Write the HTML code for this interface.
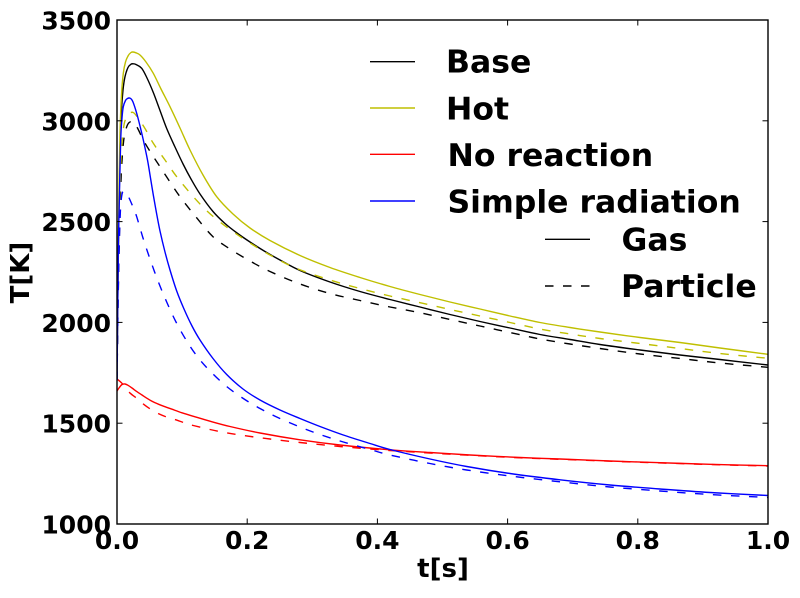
<!DOCTYPE html>
<html>
<head>
<meta charset="utf-8">
<style>
  html, body { margin: 0; padding: 0; background: #ffffff; }
  svg { display: block; }
  text { font-family: "DejaVu Sans", "Liberation Sans", sans-serif; font-weight: bold; fill: #000; }
</style>
</head>
<body>
<svg id="chart" width="800" height="598" viewBox="0 0 800 598" xmlns="http://www.w3.org/2000/svg">
  <rect x="0" y="0" width="800" height="598" fill="#ffffff"/>
  <defs>
    <clipPath id="plot">
      <rect x="117" y="20" width="651" height="504"/>
    </clipPath>
  </defs>

  <g clip-path="url(#plot)" fill="none" stroke-width="1.4" stroke-linejoin="round" stroke-linecap="butt">
    <!-- Base gas (black solid) -->
    <polyline class="s" stroke="#000000" points="117,380 117.8,300 118.8,220 120,150 121.5,110 123,90 125,76.7 128,67.5 131,64.2 133.3,63.8 136,64.5 141.7,68.3 147,78 153.3,92.5 160,110.5 166.7,128.5 175,147 183.3,164.5 191,179 200,194 213,211.5 225,223.5 237,233 250,242 265,251.5 280,260 300,270.5 330,282 360,291.5 390,299.5 420,307 450,314.5 480,321.5 510,328 540,334.5 570,339.5 600,344.5 640,350 680,355 720,359.5 768,365"/>
    <!-- Base particle (black dashed) -->
    <polyline class="s" stroke="#000000" stroke-dasharray="8.5,9.5" points="117,380 118,310 119.3,240 121,180 123.5,142 127,126 130.7,121.5 134,122.5 138,129 143.3,140 151,153 160,166.7 170,182 180,196.7 196,217 213,236.7 230,249 250,261 270,271.5 300,284 330,293.5 360,300.5 390,307 420,312.7 450,319.5 480,326 510,332.5 540,339 570,344 600,348.5 640,354 680,358.5 720,363 768,367.3"/>
    <!-- Hot gas (yellow solid) -->
    <polyline class="s" stroke="#bfbf00" points="117,380 117.8,290 118.8,200 120,133 121.5,95 123.3,73.3 125.5,62 128.3,55.5 131,52.5 133,52 136,52.8 140,55 146,62 153.3,73.3 161,89 170,106.7 180,128 190,150 203,175 216.7,196.7 233,214 250,228 270,240.5 300,255.5 330,267.5 360,277.5 390,286.5 420,294.5 450,302 480,309 510,316 540,322.5 570,327.5 600,332 640,337.5 680,342.5 720,348 768,354.3"/>
    <!-- Hot particle (yellow dashed) -->
    <polyline class="s" stroke="#bfbf00" stroke-dasharray="8.5,9.5" points="117,380 118,300 119.2,220 121,160 123.5,128 127,116 131,112.5 134,113 138,118 145,128.5 153.3,143.3 165,160 176.7,176.7 193.3,196.7 207,211 220,222 235,233 250,243 270,255 296.7,268.5 330,280 360,288.5 390,296 420,302.7 450,309.5 480,316 510,322.5 540,329 570,334 600,338.5 640,343.5 680,348.5 720,353.5 768,358.3"/>
    <!-- No reaction gas (red solid) -->
    <polyline class="s" stroke="#ff0000" points="117,391 119,388 122,384.5 125,384 128,385.3 132,388 137,391.7 142,395 147,398.3 152,401.3 158.7,404.3 165,406.7 172,409.2 182,412.8 195,416.8 210,421.2 230,426.5 260,433 300,439.8 340,445 390,449.8 430,452.5 470,455 520,457.5 560,459 610,461 660,462.7 710,464.3 768,465.7"/>
    <!-- No reaction particle (red dashed) -->
    <polyline class="s" stroke="#ff0000" stroke-dasharray="8.5,9.5" points="117,379 122,383.3 126,388.5 130.3,393.3 137,398.5 143.7,404.3 150,408.8 158.7,413.8 166,416.8 175,419.6 185,423 193.3,425.5 210,429.5 225,432.5 243.3,435.5 270,439 300,442.5 340,446.5 390,450.5 430,453 470,455.3 520,457.8 560,459.3 610,461.2 660,462.9 710,464.5 768,466"/>
    <!-- Simple radiation gas (blue solid) -->
    <polyline class="s" stroke="#0000ff" points="117,380 117.6,320 118.3,250 119.3,200 120.7,140 122,118 123.3,106.7 125.5,100.5 127.5,98.5 129.3,98 131,98.8 133,102 136.7,113.3 140,126 143.3,140 147.5,160 150.5,178 153.3,195 156.5,213 160,231 165,252 170,270 176.7,291 184,309 192,326 200,340 213,358.5 226.7,374.5 243,389 260,400 280,410 300,418.5 320,426.5 343.3,435 370,443.5 390,449.5 430,459 466.7,466.5 510,473.5 560,479.8 610,485 660,489 710,492.5 768,495.5"/>
    <!-- Simple radiation particle (blue dashed) -->
    <polyline class="s" stroke="#0000ff" stroke-dasharray="8.5,9.5" points="117,380 117.8,320 118.8,260 120,220 121,202 122.3,193 124,191.5 125.5,192 127,193.5 130,200 133,207 136.7,216.7 143,238 150,259 158,281 166.7,302 176,322 186.7,341 198,357.5 210,371 226,386 243.3,398.5 260,408.5 276.7,417 300,427 320,434.5 343.3,442 370,449.5 390,455 430,463.5 466.7,470 510,476 560,481.8 610,487 660,491 710,494.5 768,497.5"/>
  </g>

  <!-- Axes frame -->
  <rect x="117" y="20" width="651" height="504" fill="none" stroke="#000" stroke-width="1.4"/>

  <!-- Ticks -->
  <g stroke="#000" stroke-width="1">
    <line x1="247.2" y1="524" x2="247.2" y2="518.5"/>
    <line x1="377.4" y1="524" x2="377.4" y2="518.5"/>
    <line x1="507.6" y1="524" x2="507.6" y2="518.5"/>
    <line x1="637.8" y1="524" x2="637.8" y2="518.5"/>
    <line x1="247.2" y1="20" x2="247.2" y2="25.5"/>
    <line x1="377.4" y1="20" x2="377.4" y2="25.5"/>
    <line x1="507.6" y1="20" x2="507.6" y2="25.5"/>
    <line x1="637.8" y1="20" x2="637.8" y2="25.5"/>
    <line x1="117" y1="120.8" x2="122.5" y2="120.8"/>
    <line x1="117" y1="221.6" x2="122.5" y2="221.6"/>
    <line x1="117" y1="322.4" x2="122.5" y2="322.4"/>
    <line x1="117" y1="423.2" x2="122.5" y2="423.2"/>
    <line x1="768" y1="120.8" x2="762.5" y2="120.8"/>
    <line x1="768" y1="221.6" x2="762.5" y2="221.6"/>
    <line x1="768" y1="322.4" x2="762.5" y2="322.4"/>
    <line x1="768" y1="423.2" x2="762.5" y2="423.2"/>
  </g>

  <!-- Y tick labels -->
  <g font-size="25" text-anchor="end">
    <text x="111" y="29.5">3500</text>
    <text x="111" y="130.3">3000</text>
    <text x="111" y="231.1">2500</text>
    <text x="111" y="331.9">2000</text>
    <text x="111" y="432.7">1500</text>
    <text x="111" y="533.5">1000</text>
  </g>

  <!-- X tick labels -->
  <g font-size="25" text-anchor="middle">
    <text x="117" y="549">0.0</text>
    <text x="247.2" y="549">0.2</text>
    <text x="377.4" y="549">0.4</text>
    <text x="507.6" y="549">0.6</text>
    <text x="637.8" y="549">0.8</text>
    <text x="768" y="549">1.0</text>
  </g>

  <!-- Axis labels -->
  <text x="443" y="577" font-size="26" text-anchor="middle">t[s]</text>
  <text x="0" y="0" font-size="26" text-anchor="middle" transform="translate(29,272.5) rotate(-90)">T[K]</text>

  <!-- Legend 1 -->
  <g stroke-width="1.4" fill="none">
    <line x1="370" y1="61.7" x2="415" y2="61.7" stroke="#000000"/>
    <line x1="370" y1="108" x2="415" y2="108" stroke="#bfbf00"/>
    <line x1="370" y1="154.3" x2="415" y2="154.3" stroke="#ff0000"/>
    <line x1="370" y1="201" x2="415" y2="201" stroke="#0000ff"/>
  </g>
  <g font-size="31.5">
    <text x="446" y="72.7">Base</text>
    <text x="446" y="119.3">Hot</text>
    <text x="447.5" y="166">No reaction</text>
    <text x="447.5" y="212.7">Simple radiation</text>
  </g>

  <!-- Legend 2 -->
  <g stroke="#000" stroke-width="1.4" fill="none">
    <line x1="545" y1="239.3" x2="590" y2="239.3"/>
    <line x1="545" y1="286" x2="590" y2="286" stroke-dasharray="8.5,9.5"/>
  </g>
  <g font-size="31.5">
    <text x="621.5" y="250.7">Gas</text>
    <text x="621" y="297">Particle</text>
  </g>
</svg>
<script>
(function(){
  var ns = "http://www.w3.org/2000/svg";
  var pls = document.querySelectorAll("polyline.s");
  for (var k = 0; k < pls.length; k++) {
    var pl = pls[k];
    var raw = pl.getAttribute("points").trim().split(/\s+/);
    var pts = [];
    for (var j = 0; j < raw.length; j++) {
      var a = raw[j].split(",");
      pts.push([parseFloat(a[0]), parseFloat(a[1])]);
    }
    var d = "M" + pts[0][0] + "," + pts[0][1];
    for (var i = 0; i < pts.length - 1; i++) {
      var p0 = pts[i - 1] || pts[i], p1 = pts[i], p2 = pts[i + 1], p3 = pts[i + 2] || pts[i + 1];
      var c1x = p1[0] + (p2[0] - p0[0]) / 6, c1y = p1[1] + (p2[1] - p0[1]) / 6;
      var c2x = p2[0] - (p3[0] - p1[0]) / 6, c2y = p2[1] - (p3[1] - p1[1]) / 6;
      d += " C" + c1x.toFixed(2) + "," + c1y.toFixed(2) + " " + c2x.toFixed(2) + "," + c2y.toFixed(2) + " " + p2[0] + "," + p2[1];
    }
    var path = document.createElementNS(ns, "path");
    path.setAttribute("d", d);
    path.setAttribute("stroke", pl.getAttribute("stroke"));
    var da = pl.getAttribute("stroke-dasharray");
    if (da) path.setAttribute("stroke-dasharray", da);
    path.setAttribute("fill", "none");
    pl.parentNode.replaceChild(path, pl);
  }
})();
</script>
</body>
</html>
